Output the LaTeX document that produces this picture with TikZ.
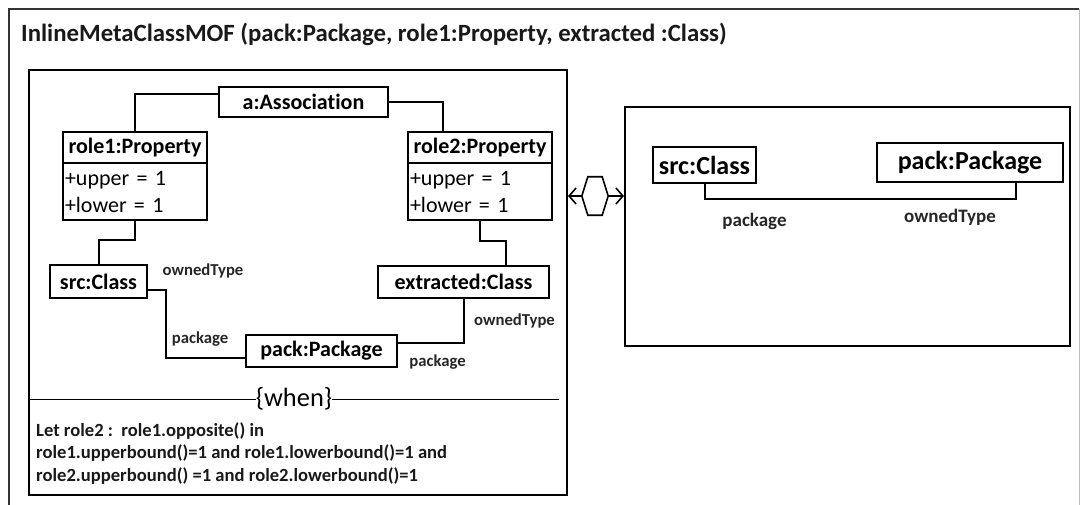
\documentclass[tikz,border=0pt]{standalone}
\usepackage{fontspec}
\setmainfont{Carlito}[Ligatures=NoCommon]
\usetikzlibrary{arrows.meta}
\begin{document}
\begin{tikzpicture}[x=1pt,y=-1pt,
  box/.style={draw, line width=2pt, inner sep=1pt, font=\fontsize{22}{26}\selectfont\bfseries},
  bigbox/.style={draw, line width=2pt, inner sep=1pt, font=\fontsize{26}{30}\selectfont\bfseries},
  frame/.style={draw, line width=2pt, inner sep=0pt},
  conn/.style={line width=2pt},
  lbl/.style={font=\fontsize{16.7}{19}\selectfont\bfseries, inner sep=0pt, text=black!85},
  biglbl/.style={font=\fontsize{19}{22}\selectfont\bfseries, inner sep=0pt, text=black!85},
  barb/.style={line width=1.6pt, {Straight Barb[length=7pt,width=16pt]}-},
]
\useasboundingbox (0,0) rectangle (1081,505);
% outer frame
\coordinate (obl) at (9,505);
\coordinate (otl) at (9,9);
\coordinate (otr) at (1079,9);
\coordinate (obr) at (1079,505);
\draw[line width=2pt, black!80] (obl) -- (otl) -- (otr);
\draw[line width=1pt, black!25] (otr) -- (obr);
\node[anchor=west, inner sep=0pt, font=\fontsize{24.8}{28}\selectfont\bfseries, text=black!90] (title) at (21,34)
  {InlineMetaClassMOF (pack:Package, role1:Property, extracted :Class)};

% left frame
\node[frame, minimum width=538, minimum height=425] (lframe) at (298,282.5) {};
\node[box, minimum width=169, minimum height=30] (assoc) at (303.5,102) {a:Association};
\node[box, minimum width=144, minimum height=31] (r1h) at (135,147.5) {role1:Property};
\node[box, minimum width=144, minimum height=57, text width=140, align=left,
      font=\fontsize{22}{27}\selectfont] (r1b) at (135,191.5) {+upper = 1\\+lower = 1};
\node[box, minimum width=144, minimum height=31] (r2h) at (480,147.5) {role2:Property};
\node[box, minimum width=144, minimum height=57, text width=140, align=left,
      font=\fontsize{22}{27}\selectfont] (r2b) at (480,191.5) {+upper = 1\\+lower = 1};
\node[box, minimum width=97, minimum height=33] (src) at (98.5,281.5) {src:Class};
\node[box, minimum width=171, minimum height=32] (ext) at (463.5,282) {extracted:Class};
\node[box, minimum width=151, minimum height=32] (pack) at (321.5,351) {pack:Package};

\draw[conn] ([yshift=8]assoc.west) -| (r1h.north);
\draw[conn] (assoc.east) -| ([xshift=-37]r2h.north);
\draw[conn] (r1b.south) -- ++(0,19) -| (src.north);
\draw[conn] (r2b.south) -- ++(0,20) -| ([xshift=42.5]ext.north);
\draw[conn] ([yshift=-8.5]src.east) -- ++(18,0) |- ([yshift=-7]pack.west);
\draw[conn] ([yshift=8]pack.east) -| (ext.south);

\node[lbl] (l1) at (203,271) {ownedType};
\node[lbl] (l2) at (200,339) {package};
\node[lbl] (l3) at (514.5,321) {ownedType};
\node[lbl] (l4) at (437.5,362) {package};

% when separator
\node[inner sep=0pt, font=\fontsize{26.4}{30}\selectfont] (when) at (294,399) {\{when\}};
\coordinate (wend) at (559,399);
\draw[line width=1pt] (lframe.west |- when) -- (when.west);
\draw[line width=1pt] (when.east) -- (wend);
\node[anchor=north west, align=left, inner sep=0pt, text=black!90,
      font=\fontsize{18.6}{22.5}\selectfont\bfseries] (cond) at (36,422)
  {Let role2 :\ \ role1.opposite() in\\
   role1.upperbound()=1 and role1.lowerbound()=1 and\\
   role2.upperbound() =1 and role2.lowerbound()=1};

% right frame
\node[frame, minimum width=445, minimum height=239] (rframe) at (847.5,226.5) {};
\node[bigbox, minimum width=103, minimum height=36] (src2) at (704.5,165) {src:Class};
\node[bigbox, minimum width=186, minimum height=39] (pack2) at (970,162.5) {pack:Package};
\draw[conn] (src2.south) -- ++(0,15) -| ([xshift=46]pack2.south);
\node[biglbl] (l5) at (754.5,221) {package};
\node[biglbl] (l6) at (950,217) {ownedType};

% hexagon with arrows
\node[inner sep=0pt, minimum width=26, minimum height=38] (hex) at (595,196) {};
\draw[line width=1.6pt] (hex.west) -- ([xshift=6]hex.north west) -- ([xshift=-6]hex.north east)
  -- (hex.east) -- ([xshift=-6]hex.south east) -- ([xshift=6]hex.south west) -- cycle;
\draw[barb] (hex.west -| lframe.east) -- (hex.west);
\draw[barb] (hex.east -| rframe.west) -- (hex.east);
\end{tikzpicture}
\end{document}
